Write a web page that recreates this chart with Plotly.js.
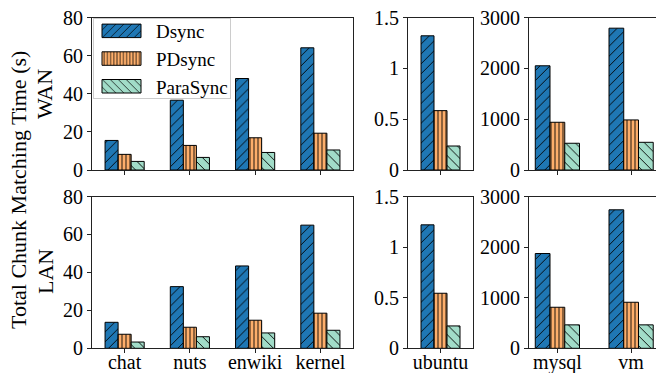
<!DOCTYPE html>
<html>
<head>
<meta charset="utf-8">
<script src="https://cdn.plot.ly/plotly-3.0.1.min.js"></script>
<style>
html,body{margin:0;padding:0;overflow:hidden;background:#fff;}
#chart{width:662px;height:373px;}
</style>
</head>
<body>
<div id="chart"></div>
<script>
// ---- data ----
const categories = ['chat','nuts','enwiki','kernel','ubuntu','mysql','vm'];
const seriesNames = ['Dsync','PDsync','ParaSync'];
const wanDsync    = [15.5, 36.6, 48.0, 64.1, 1.32, 2050, 2790];
const wanPDsync   = [8.2, 12.9, 16.9, 19.3, 0.584, 939, 985];
const wanParaSync = [4.5, 6.6, 9.2, 10.5, 0.236, 526, 545];
const lanDsync    = [13.7, 32.5, 43.4, 64.9, 1.22, 1873, 2737];
const lanPDsync   = [7.4, 11.1, 14.8, 18.5, 0.544, 811, 910];
const lanParaSync = [3.3, 6.1, 8.1, 9.5, 0.221, 463, 463];
const rowLabels = ['WAN','LAN'];
const yTitle = 'Total Chunk Matching Time (s)';

// ---- styling ----
const W = 662, H = 373;
const FONT = 'Liberation Serif, Times New Roman, serif';
const colors = ['#1f77b4','#fdae6b','#a1dcc8'];
const patterns = [
  {shape:'/', size:7, solidity:0.13},
  {shape:'|', size:4, solidity:0.22},
  {shape:'\\', size:7, solidity:0.13}
];
const groups = [[0,4],[4,5],[5,7]]; // slices of categories per column
const xDomains = [[92/W,353/W],[408/W,473/W],[529/W,659.5/W]];
const yDomains = [[1-170/H,1-17.5/H],[1-348.3/H,1-196.5/H]];
const xRanges = [[-0.5,3.5],[-0.5,0.5],[-0.385,1.385]];
const yRanges = [[0,80],[0,1.5],[0,3000]];
const yTicks = [
  {vals:[0,20,40,60,80], text:['0','20','40','60','80']},
  {vals:[0,0.5,1,1.5], text:['0','0.5','1','1.5']},
  {vals:[0,1000,2000,3000], text:['0','1000','2000','3000']}
];
const rows = [[wanDsync,wanPDsync,wanParaSync],[lanDsync,lanPDsync,lanParaSync]];

const traces = [];
const layout = {
  width: W, height: H,
  margin:{l:0,r:0,t:0,b:0},
  paper_bgcolor:'#fff', plot_bgcolor:'#fff',
  font:{family:FONT, size:20, color:'#000'},
  barmode:'group', bargap:0.4, bargroupgap:0,
  showlegend:true,
  legend:{x:93/W, y:1-18/H, xanchor:'left', yanchor:'top',
    bgcolor:'rgba(255,255,255,0.85)', bordercolor:'#cccccc', borderwidth:1,
    font:{family:FONT,size:19,color:'#000'}, itemwidth:52, traceorder:'normal'},
  annotations:[],
};

let axisIdx = 0;
for (let r = 0; r < 2; r++) {
  for (let c = 0; c < 3; c++) {
    axisIdx++;
    const sx = axisIdx === 1 ? '' : String(axisIdx);
    const cats = categories.slice(groups[c][0], groups[c][1]);
    for (let s = 0; s < 3; s++) {
      traces.push({
        type:'bar', name: seriesNames[s],
        x: cats, y: rows[r][s].slice(groups[c][0], groups[c][1]),
        xaxis:'x'+sx, yaxis:'y'+sx,
        showlegend: axisIdx === 1,
        marker:{color:colors[s], line:{color:'#000',width:1},
          pattern:{shape:patterns[s].shape, size:patterns[s].size, solidity:patterns[s].solidity,
                   fgcolor:'#000', bgcolor:colors[s], fillmode:'replace'}},
        hoverinfo:'skip'
      });
    }
    const axBase = {showline:true, mirror:true, linecolor:'#222', linewidth:1,
      ticks:'outside', ticklen:4, tickwidth:1, tickcolor:'#222',
      showgrid:false, zeroline:false, fixedrange:true,
      tickfont:{family:FONT,size:20,color:'#000'}};
    layout['xaxis'+sx] = Object.assign({}, axBase, {
      domain:xDomains[c], anchor:'y'+sx, type:'category',
      range:xRanges[c], showticklabels: r === 1, categoryorder:'array', categoryarray:cats,
      ticklabelstandoff:-8
    });
    layout['yaxis'+sx] = Object.assign({}, axBase, {
      domain:yDomains[r], anchor:'x'+sx, range:yRanges[c],
      tickvals:yTicks[c].vals, ticktext:yTicks[c].text
    });
  }
}

layout.annotations.push({text:yTitle, xref:'paper', yref:'paper', x:18/W, y:1-190/H,
  xanchor:'center', yanchor:'middle', textangle:-90, showarrow:false,
  font:{family:FONT,size:22,color:'#000'}});
layout.annotations.push({text:rowLabels[0], xref:'paper', yref:'paper', x:45/W, y:1-94/H,
  xanchor:'center', yanchor:'middle', textangle:-90, showarrow:false,
  font:{family:FONT,size:22,color:'#000'}});
layout.annotations.push({text:rowLabels[1], xref:'paper', yref:'paper', x:45/W, y:1-272/H,
  xanchor:'center', yanchor:'middle', textangle:-90, showarrow:false,
  font:{family:FONT,size:22,color:'#000'}});

Plotly.newPlot('chart', traces, layout, {staticPlot:true, displayModeBar:false}).then(gd => {
  gd.querySelectorAll('.legend .legendpoints path').forEach(p => {
    p.setAttribute('d', 'M-23,6.75H16V-6.75H-23Z');
  });
  // tighten legend top padding
  const sb = gd.querySelector('.legend .scrollbox');
  if (sb) {
    const t = sb.getAttribute('transform') || '';
    sb.setAttribute('transform', t + ' translate(0,-7)');
  }
  const bg = gd.querySelector('.legend rect.bg');
  if (bg) {
    const h = parseFloat(bg.getAttribute('height'));
    const w = parseFloat(bg.getAttribute('width'));
    bg.setAttribute('height', Math.max(0, h - 15));
    bg.setAttribute('width', Math.max(0, w - 3));
  }
});
</script>
</body>
</html>
